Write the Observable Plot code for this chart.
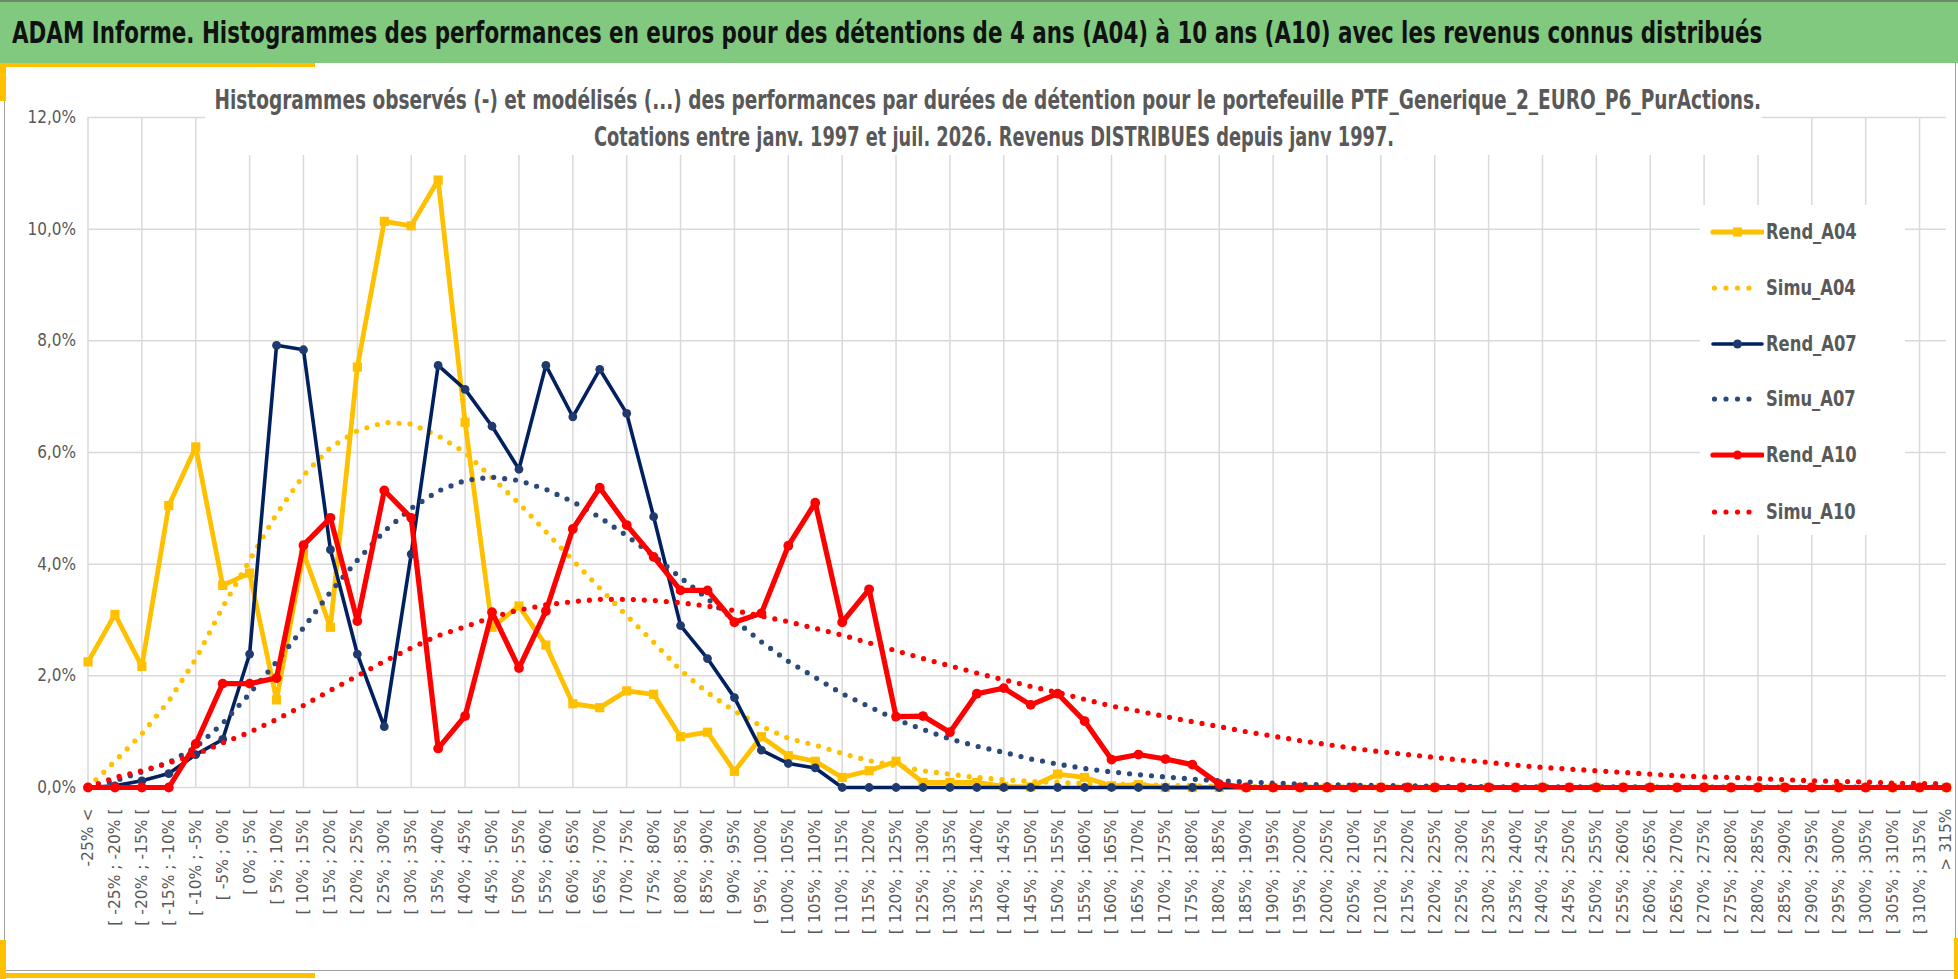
<!DOCTYPE html>
<html><head><meta charset="utf-8">
<script src="https://cdn.jsdelivr.net/npm/d3@7"></script>
<script src="https://cdn.jsdelivr.net/npm/@observablehq/plot@0.6"></script>
<style>
html,body{margin:0;padding:0;background:#fff;}
body{width:1958px;height:979px;position:relative;overflow:hidden;}
.abs{position:absolute;}
#banner{left:0;top:0;width:1958px;height:63px;background:#80c97f;border-top:2px solid #6b8a6b;box-sizing:border-box;}
#title{left:12px;top:32px;white-space:nowrap;font-weight:bold;font-size:31px;line-height:1;color:#111;transform-origin:0 50%;}
#frame{left:4px;top:63px;width:1952px;height:908px;border-left:1.5px solid #a0a0a0;border-right:1.5px solid #a0a0a0;border-bottom:1.5px solid #a0a0a0;box-sizing:border-box;}
#chart{left:0;top:62px;}
#subbox{left:205px;top:64px;width:1557px;height:91px;background:#fff;}
.sub{white-space:nowrap;font-weight:bold;font-size:26px;line-height:1;color:#595959;transform-origin:50% 50%;}
#legbox{left:1700px;top:205px;width:205px;height:330px;background:#fff;}
.legtxt{white-space:nowrap;font-weight:bold;font-size:22px;line-height:1;color:#595959;transform-origin:0 50%;}
.gold{background:#FFC000;}
</style>
</head><body>
<div id="banner" class="abs"></div>
<div id="frame" class="abs"></div>
<div id="chart" class="abs"></div>
<div id="subbox" class="abs"></div>
<div id="legbox" class="abs"></div>
<span id="title" class="abs">ADAM Informe. Histogrammes des performances en euros pour des détentions de 4 ans (A04) à 10 ans (A10) avec les revenus connus distribués</span>
<div class="abs gold" style="left:0;top:63px;width:315px;height:4px"></div>
<div class="abs gold" style="left:0;top:63px;width:6px;height:38px"></div>
<div class="abs gold" style="left:0;top:940px;width:6px;height:39px"></div>
<div class="abs gold" style="left:0;top:973px;width:315px;height:5px"></div>
<div class="abs gold" style="left:1954px;top:938px;width:4px;height:41px"></div>
<script>
const categories = [
"-25% <",
"[ -25% ; -20% [","[ -20% ; -15% [","[ -15% ; -10% [","[ -10% ; -5% [","[ -5% ; 0% [",
"[ 0% ; 5% [","[ 5% ; 10% [","[ 10% ; 15% [","[ 15% ; 20% [","[ 20% ; 25% [",
"[ 25% ; 30% [","[ 30% ; 35% [","[ 35% ; 40% [","[ 40% ; 45% [","[ 45% ; 50% [",
"[ 50% ; 55% [","[ 55% ; 60% [","[ 60% ; 65% [","[ 65% ; 70% [","[ 70% ; 75% [",
"[ 75% ; 80% [","[ 80% ; 85% [","[ 85% ; 90% [","[ 90% ; 95% [","[ 95% ; 100% [",
"[ 100% ; 105% [","[ 105% ; 110% [","[ 110% ; 115% [","[ 115% ; 120% [","[ 120% ; 125% [",
"[ 125% ; 130% [","[ 130% ; 135% [","[ 135% ; 140% [","[ 140% ; 145% [","[ 145% ; 150% [",
"[ 150% ; 155% [","[ 155% ; 160% [","[ 160% ; 165% [","[ 165% ; 170% [","[ 170% ; 175% [",
"[ 175% ; 180% [","[ 180% ; 185% [","[ 185% ; 190% [","[ 190% ; 195% [","[ 195% ; 200% [",
"[ 200% ; 205% [","[ 205% ; 210% [","[ 210% ; 215% [","[ 215% ; 220% [","[ 220% ; 225% [",
"[ 225% ; 230% [","[ 230% ; 235% [","[ 235% ; 240% [","[ 240% ; 245% [","[ 245% ; 250% [",
"[ 250% ; 255% [","[ 255% ; 260% [","[ 260% ; 265% [","[ 265% ; 270% [","[ 270% ; 275% [",
"[ 275% ; 280% [","[ 280% ; 285% [","[ 285% ; 290% [","[ 290% ; 295% [","[ 295% ; 300% [",
"[ 300% ; 305% [","[ 305% ; 310% [","[ 310% ; 315% [",
"> 315%"
];
const yTicks = [0,2,4,6,8,10,12];
const yTickLabels = ["0,0%","2,0%","4,0%","6,0%","8,0%","10,0%","12,0%"];

const rendA04 = [2.25,3.10,2.17,5.05,6.10,3.62,3.84,1.57,4.20,2.87,
 7.53,10.14,10.06,10.88,6.54,2.87,3.25,2.55,1.50,1.43,
 1.73,1.67,0.91,0.99,0.29,0.91,0.57,0.47,0.18,0.30,
 0.47,0.09,0.09,0.09,0.02,0.01,0.24,0.18,0.03,0.05,
 0,0,0,0,0,0,0,0,0,0, 0,0,0,0,0,0,0,0,0,0, 0,0,0,0,0,0,0,0,0,0];
const simuA04 = [0,0.47,0.96,1.55,2.30,3.23,4.07,4.90,5.59,6.09,
 6.39,6.54,6.51,6.30,6.00,5.55,5.09,4.58,4.07,3.57,
 3.08,2.60,2.10,1.70,1.37,1.10,0.88,0.76,0.61,0.48,
 0.39,0.30,0.24,0.18,0.14,0.11,0.09,0.07,0.06,0.05,
 0.04,0.03,0.025,0.02,0.015,0.01,0.01,0.01,0.01,0.01,
 0,0,0,0,0,0,0,0,0,0, 0,0,0,0,0,0,0,0,0,0];
const rendA07 = [0,0.03,0.12,0.25,0.59,0.86,2.39,7.92,7.84,4.26,
 2.39,1.09,4.18,7.56,7.13,6.47,5.70,7.56,6.64,7.49,
 6.70,4.85,2.90,2.31,1.61,0.67,0.43,0.35,0,0,
 0,0,0,0,0,0,0,0,0,0, 0,0,0,0,0,0,0,0,0,0, 0,0,0,0,0,0,0,0,0,0, 0,0,0,0,0,0,0,0,0,0];
const simuA07 = [0,0.12,0.28,0.45,0.72,1.15,1.68,2.25,2.86,3.50,
 4.07,4.59,5.00,5.31,5.50,5.56,5.50,5.34,5.12,4.84,
 4.51,4.15,3.76,3.38,3.00,2.61,2.26,1.97,1.68,1.45,
 1.22,1.04,0.87,0.74,0.63,0.51,0.42,0.34,0.28,0.23,
 0.19,0.15,0.12,0.10,0.08,0.06,0.05,0.04,0.035,0.03,
 0.025,0.02,0.015,0.01,0.01,0.01,0.01,0.01,0.01,0.005,
 0.005,0.005,0.005,0.005,0.005,0.005,0.005,0.005,0.005,0.005];
const rendA10 = [0,0,0,0,0.78,1.86,1.86,1.96,4.34,4.83,
 2.98,5.32,4.83,0.70,1.28,3.14,2.14,3.16,4.63,5.37,
 4.70,4.13,3.53,3.53,2.96,3.12,4.33,5.10,2.96,3.55,
 1.27,1.28,0.99,1.68,1.78,1.48,1.68,1.19,0.50,0.59,
 0.51,0.41,0.06,0,0,0,0,0,0,0,
 0,0,0,0,0,0,0,0,0,0, 0,0,0,0,0,0,0,0,0,0];
const simuA10 = [0,0.18,0.30,0.44,0.59,0.80,0.99,1.22,1.47,1.74,
 2.00,2.26,2.50,2.72,2.88,3.05,3.18,3.27,3.33,3.37,
 3.37,3.35,3.31,3.25,3.17,3.07,2.97,2.85,2.73,2.59,
 2.45,2.31,2.18,2.05,1.93,1.81,1.70,1.58,1.46,1.37,
 1.27,1.18,1.09,1.00,0.92,0.84,0.77,0.70,0.64,0.59,
 0.54,0.49,0.45,0.40,0.36,0.33,0.30,0.27,0.24,0.21,
 0.19,0.18,0.16,0.14,0.12,0.11,0.10,0.08,0.07,0.07];

const seriesNames = ["Rend_A04","Simu_A04","Rend_A07","Simu_A07","Rend_A10","Simu_A10"];
const subtitleLines = [
 "Histogrammes observés (-) et modélisés (...) des performances par durées de détention pour le portefeuille PTF_Generique_2_EURO_P6_PurActions.",
 "Cotations  entre janv. 1997 et juil. 2026. Revenus DISTRIBUES depuis janv 1997."
];

const YELLOW = "#FFC000", NAVY = "#002060", NAVYDOT = "#2A4A7C", NAVYMARK = "#1F3A6E", RED = "#FF0000";

function fontAvailable(name){
  const c = document.createElement("canvas").getContext("2d");
  const t = "mmmmmmmmmmlli1WQ@#";
  let ok = false;
  for (const base of ["monospace","serif"]) {
    c.font = "72px " + base; const a = c.measureText(t).width;
    c.font = `72px "${name}", ${base}`; const b = c.measureText(t).width;
    if (Math.abs(a-b) > 0.5) ok = true;
  }
  return ok;
}
const narrow = fontAvailable("Liberation Sans Narrow") ? '"Liberation Sans Narrow"' :
               fontAvailable("DejaVu Sans Condensed") ? '"DejaVu Sans Condensed"' : 'Roboto';
const isNarrow = narrow !== 'Roboto';
const wide = fontAvailable("DejaVu Sans") ? '"DejaVu Sans"' : 'Verdana, sans-serif';

const st = document.createElement("style");
st.textContent = `
#title,.sub,.legtxt{font-family:${narrow},"Liberation Sans",sans-serif;}
#chart g[aria-label="y-axis tick label"] text{font-family:${narrow},"Liberation Sans",sans-serif;font-size:${isNarrow?17:15}px;fill:#595959;}
#chart g[aria-label="x-axis tick label"] text{font-family:${wide};font-size:15.5px;fill:#595959;}
`;
document.head.appendChild(st);

const rows = vals => categories.map((c,i) => ({cat:c, v:vals[i]}));
const dotted = {strokeDasharray:"0 11", strokeLinecap:"round", strokeWidth:5.2};

const chart = Plot.plot({
  width: 1958, height: 910,
  marginLeft: 87.5, marginRight: 12, marginTop: 55, marginBottom: 185,
  x: {type:"point", domain: categories, padding: 0, label: null},
  y: {domain: [0, 12], label: null},
  style: {background:"transparent", overflow:"visible"},
  marks: [
    Plot.ruleY(yTicks, {stroke:"#d9d9d9", strokeWidth:1.5}),
    Plot.ruleX(categories.filter((c,i) => i % 2 === 0), {y1:0, y2:12, stroke:"#d9d9d9", strokeWidth:1.5}),
    Plot.axisY({ticks: yTicks, tickFormat: d => yTickLabels[yTicks.indexOf(d)], tickSize:0, tickPadding:12, label:null}),
    Plot.axisX({tickRotate:-90, tickSize:0, tickPadding:21, label:null}),
    Plot.line(rows(rendA04), {x:"cat", y:"v", stroke:YELLOW, strokeWidth:4.8, strokeLinejoin:"round"}),
    Plot.dot(rows(rendA04), {x:"cat", y:"v", symbol:"square", r:5.2, fill:YELLOW}),
    Plot.line(rows(simuA04), {x:"cat", y:"v", stroke:YELLOW, ...dotted}),
    Plot.line(rows(rendA07), {x:"cat", y:"v", stroke:NAVY, strokeWidth:3.6, strokeLinejoin:"round"}),
    Plot.dot(rows(rendA07), {x:"cat", y:"v", r:4.4, fill:NAVYMARK}),
    Plot.line(rows(simuA07), {x:"cat", y:"v", stroke:NAVYDOT, ...dotted}),
    Plot.line(rows(rendA10), {x:"cat", y:"v", stroke:RED, strokeWidth:5.2, strokeLinejoin:"round"}),
    Plot.dot(rows(rendA10), {x:"cat", y:"v", r:4.9, fill:RED}),
    Plot.line(rows(simuA10), {x:"cat", y:"v", stroke:RED, ...dotted})
  ]
});
document.getElementById("chart").appendChild(chart);

// subtitle
const subCenters = [[988,100,1547],[994,137,800]];
subtitleLines.forEach((t,i) => {
  const s = document.createElement("span");
  s.className = "abs sub"; s.textContent = t;
  document.body.appendChild(s);
  const [cx, cy, tw] = subCenters[i];
  const w = s.offsetWidth, h = s.offsetHeight;
  s.style.left = (cx - w/2) + "px"; s.style.top = (cy - h/2) + "px";
  s.style.transform = `scaleX(${tw/w})`;
});

// title
const ti = document.getElementById("title");
{
  const w = ti.offsetWidth, h = ti.offsetHeight;
  ti.style.top = (32 - h/2) + "px";
  ti.style.transform = `scaleX(${1750/w})`;
}

// legend
const legColors = [YELLOW, YELLOW, NAVY, NAVYDOT, RED, RED];
const legMarkColors = [YELLOW, null, NAVYMARK, null, RED, null];
const legY = [232, 288, 344, 399, 455, 512];
let legScale = null;
seriesNames.forEach((name, i) => {
  const ns = "http://www.w3.org/2000/svg";
  const svg = document.createElementNS(ns, "svg");
  svg.setAttribute("width", 54); svg.setAttribute("height", 16);
  svg.style.position = "absolute"; svg.style.left = "1710px"; svg.style.top = (legY[i]-8) + "px";
  if (name.startsWith("Rend")) {
    const l = document.createElementNS(ns, "line");
    l.setAttribute("x1", 3); l.setAttribute("x2", 52); l.setAttribute("y1", 8); l.setAttribute("y2", 8);
    l.setAttribute("stroke", legColors[i]); l.setAttribute("stroke-width", i===2 ? 3.6 : 5.2);
    l.setAttribute("stroke-linecap", "round");
    svg.appendChild(l);
    if (i === 0) {
      const r = document.createElementNS(ns, "rect");
      r.setAttribute("x", 23); r.setAttribute("y", 3.5); r.setAttribute("width", 9); r.setAttribute("height", 9);
      r.setAttribute("fill", legMarkColors[i]); svg.appendChild(r);
    } else {
      const c = document.createElementNS(ns, "circle");
      c.setAttribute("cx", 27.5); c.setAttribute("cy", 8); c.setAttribute("r", 4.5);
      c.setAttribute("fill", legMarkColors[i]); svg.appendChild(c);
    }
  } else {
    const l = document.createElementNS(ns, "line");
    l.setAttribute("x1", 4.5); l.setAttribute("x2", 40); l.setAttribute("y1", 8); l.setAttribute("y2", 8);
    l.setAttribute("stroke", legColors[i]); l.setAttribute("stroke-width", 5.2);
    l.setAttribute("stroke-dasharray", "0 11.5"); l.setAttribute("stroke-linecap", "round");
    svg.appendChild(l);
  }
  document.body.appendChild(svg);
  const s = document.createElement("span");
  s.className = "abs legtxt"; s.textContent = name;
  document.body.appendChild(s);
  const w = s.offsetWidth, h = s.offsetHeight;
  if (legScale === null) legScale = 91 / w;
  s.style.left = "1766px"; s.style.top = (legY[i] - h/2) + "px";
  s.style.transform = `scaleX(${legScale})`;
});
</script>
</body></html>
